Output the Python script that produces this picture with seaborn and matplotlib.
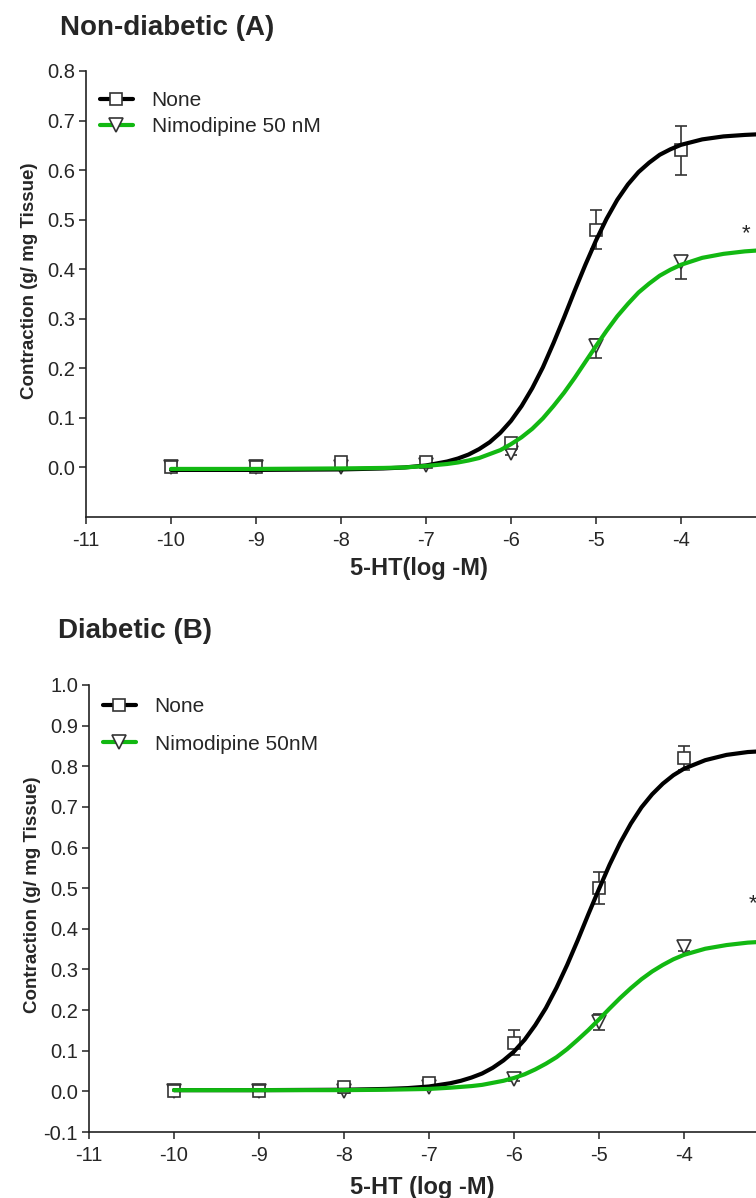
import numpy as np
import pandas as pd
import seaborn as sns
import matplotlib.pyplot as plt
from matplotlib.lines import Line2D
from matplotlib.ticker import FormatStrFormatter

sns.set_style("ticks")
plt.rcParams['font.family'] = ['Liberation Sans', 'DejaVu Sans']
plt.rcParams['axes.unicode_minus'] = False

# measured points (log M of 5-HT)
dose = [-10, -9, -8, -7, -6, -5, -4]

# panel A - non-diabetic
a_none = [0.0, 0.0, 0.01, 0.01, 0.05, 0.48, 0.64]
a_none_lo = [0.003, 0.003, 0.004, 0.004, 0.006, 0.04, 0.05]
a_none_hi = [0.003, 0.003, 0.004, 0.004, 0.006, 0.04, 0.05]
a_nim = [0.0, 0.0, 0.0, 0.005, 0.03, 0.245, 0.415]
a_nim_lo = [0.003, 0.003, 0.003, 0.003, 0.005, 0.025, 0.035]
a_nim_hi = [0.003, 0.003, 0.003, 0.003, 0.005, 0.015, 0.01]

# panel B - diabetic
b_none = [0.0, 0.0, 0.01, 0.02, 0.12, 0.50, 0.82]
b_none_lo = [0.003, 0.003, 0.004, 0.005, 0.03, 0.04, 0.03]
b_none_hi = [0.003, 0.003, 0.004, 0.005, 0.03, 0.04, 0.03]
b_nim = [0.0, 0.0, 0.0, 0.01, 0.03, 0.17, 0.355]
b_nim_lo = [0.003, 0.003, 0.003, 0.003, 0.005, 0.02, 0.01]
b_nim_hi = [0.003, 0.003, 0.003, 0.003, 0.005, 0.02, 0.01]

# fitted curves
curve_x = [-10, -9, -8, -7.5, -7.25, -7, -6.75, -6.625, -6.5, -6.375, -6.25, -6.125, -6,
           -5.875, -5.75, -5.625, -5.5, -5.375, -5.25, -5.125, -5, -4.875, -4.75, -4.625,
           -4.5, -4.375, -4.25, -4.125, -4, -3.75, -3.5, -3.25, -3]
a_none_fit = [-0.005, -0.005, -0.004, -0.002, 0.000, 0.004, 0.012, 0.018, 0.026, 0.037, 0.051,
              0.070, 0.094, 0.124, 0.160, 0.202, 0.251, 0.303, 0.357, 0.409, 0.458, 0.502,
              0.540, 0.571, 0.596, 0.615, 0.631, 0.642, 0.651, 0.662, 0.668, 0.671, 0.673]
a_nim_fit = [-0.003, -0.003, -0.002, -0.001, 0.000, 0.003, 0.007, 0.010, 0.014, 0.019, 0.027,
             0.035, 0.047, 0.061, 0.078, 0.099, 0.124, 0.151, 0.181, 0.213, 0.245, 0.276,
             0.305, 0.330, 0.353, 0.371, 0.387, 0.399, 0.409, 0.423, 0.431, 0.436, 0.439]
b_none_fit = [0.003, 0.003, 0.004, 0.006, 0.008, 0.012, 0.020, 0.026, 0.034, 0.044, 0.058,
              0.076, 0.098, 0.127, 0.163, 0.205, 0.255, 0.311, 0.372, 0.436, 0.498, 0.558,
              0.612, 0.659, 0.699, 0.731, 0.757, 0.778, 0.794, 0.815, 0.828, 0.835, 0.838]
b_nim_fit = [0.003, 0.003, 0.003, 0.004, 0.005, 0.006, 0.009, 0.011, 0.013, 0.016, 0.021,
             0.026, 0.033, 0.042, 0.054, 0.068, 0.084, 0.104, 0.127, 0.151, 0.177, 0.204,
             0.230, 0.254, 0.276, 0.295, 0.311, 0.325, 0.336, 0.351, 0.360, 0.366, 0.369]

GREEN = '#12b812'
EDGE = '#333333'


def draw_panel(ax, none, none_lo, none_hi, nim, nim_lo, nim_hi, none_fit, nim_fit,
               ylim, yticks, xlabel, nim_label, legend_y, spacing, star, xlab_y):
    # markers first, curves drawn over them
    ax.errorbar(dose, nim, yerr=[nim_lo, nim_hi], fmt='v', ms=9.5, mfc='white', mec=EDGE,
                mew=1.2, ecolor=EDGE, elinewidth=1.2, capsize=4.5, capthick=1.2, zorder=2)
    ax.errorbar(dose, none, yerr=[none_lo, none_hi], fmt='s', ms=9, mfc='white', mec=EDGE,
                mew=1.2, ecolor=EDGE, elinewidth=1.2, capsize=4.5, capthick=1.2, zorder=3)
    fits = pd.DataFrame({'x': curve_x, 'none': none_fit, 'nim': nim_fit})
    sns.lineplot(data=fits, x='x', y='none', ax=ax, color='black', lw=3.0, zorder=4)
    sns.lineplot(data=fits, x='x', y='nim', ax=ax, color=GREEN, lw=3.0, zorder=5)

    ax.set_xlim(-11, -3)
    ax.set_ylim(*ylim)
    ax.set_xticks(range(-11, -3))
    ax.set_yticks(yticks)
    ax.yaxis.set_major_formatter(FormatStrFormatter('%.1f'))
    ax.tick_params(labelsize=14.5, length=5, width=1.1, color='#222222')
    ax.tick_params(axis='x', pad=5)
    ax.tick_params(axis='y', pad=3)
    for s in ['top', 'right']:
        ax.spines[s].set_visible(False)
    for s in ['left', 'bottom']:
        ax.spines[s].set_linewidth(1.2)
        ax.spines[s].set_color('#222222')

    ax.set_xlabel(xlabel, fontsize=17, fontweight='bold')
    ax.set_ylabel('Contraction (g/ mg Tissue)', fontsize=13.5, fontweight='bold')
    ax.xaxis.set_label_coords(0.49, xlab_y)
    ax.yaxis.set_label_coords(-0.07, 0.53)

    ax.text(star[0], star[1], '*', fontsize=16, ha='center', va='center')

    handles = [
        Line2D([], [], color='black', lw=3.0, marker='s', ms=9, mfc='white', mec=EDGE, mew=1.2),
        Line2D([], [], color=GREEN, lw=3.0, marker='v', ms=9.5, mfc='white', mec=EDGE, mew=1.2),
    ]
    ax.legend(handles, ['None', nim_label], loc='upper left', bbox_to_anchor=(0.02, legend_y),
              frameon=False, fontsize=15, handlelength=1.6, handletextpad=0.9,
              labelspacing=spacing, borderpad=0, borderaxespad=0)


fig = plt.figure(figsize=(7.56, 11.98), dpi=100)
axA = fig.add_axes([86 / 756, 681 / 1198, 680 / 756, 446 / 1198])
axB = fig.add_axes([89 / 756, 66 / 1198, 680 / 756, 447 / 1198])

draw_panel(axA, a_none, a_none_lo, a_none_hi, a_nim, a_nim_lo, a_nim_hi, a_none_fit, a_nim_fit,
           (-0.1, 0.8), np.round(np.arange(0, 0.81, 0.1), 1), '5-HT(log -M)',
           'Nimodipine 50 nM', 0.955, 0.35, (-3.23, 0.472), -0.090)
draw_panel(axB, b_none, b_none_lo, b_none_hi, b_nim, b_nim_lo, b_nim_hi, b_none_fit, b_nim_fit,
           (-0.1, 1.0), np.round(np.arange(-0.1, 1.01, 0.1), 1), '5-HT (log -M)',
           'Nimodipine 50nM', 0.973, 0.89, (-3.19, 0.463), -0.098)

fig.text(60 / 756, 1 - 28 / 1198, 'Non-diabetic (A)', fontsize=20, fontweight='bold',
         ha='left', va='center')
fig.text(58 / 756, 1 - 631 / 1198, 'Diabetic (B)', fontsize=20, fontweight='bold',
         ha='left', va='center')

fig.savefig('out.png', dpi=100)
